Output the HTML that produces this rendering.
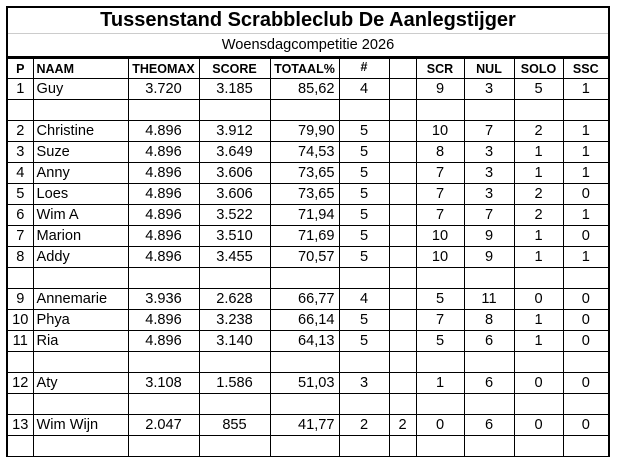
<!DOCTYPE html>
<html><head><meta charset="utf-8"><style>
html,body{margin:0;padding:0;background:#fff;width:617px;height:447px;overflow:hidden}
table{position:absolute;left:6px;top:6px;border-collapse:collapse;table-layout:fixed;font-family:"Liberation Sans",Arial,sans-serif;color:#000}
td{border:1px solid #000;height:20px;padding:0;font-size:14.6px;text-align:center;white-space:nowrap;overflow:hidden;line-height:19px;padding-top:1px;box-sizing:border-box}
tr{height:21px}
td.l{text-align:left;padding-left:3px}
td.r{text-align:right;padding-right:4px}
tr.h td{font-weight:bold;font-size:12.5px;line-height:18px}
tr.t{height:26px}
tr.t td{font-weight:bold;font-size:20px;height:26px;border:2px solid #000;border-bottom:1px solid #ccc;line-height:22px;padding-top:0}
tr.s{height:24px}
tr.s td{font-size:14.6px;height:24px;border:2px solid #000;border-top:none;border-bottom:3px solid #000;line-height:20px;padding-top:0}
td.lb{border-left:2px solid #000}
td.rb{border-right:2px solid #000}
</style></head><body>
<table>
<colgroup><col style="width:26px"><col style="width:95px"><col style="width:71px"><col style="width:71px"><col style="width:69px"><col style="width:50px"><col style="width:27px"><col style="width:48px"><col style="width:50px"><col style="width:49px"><col style="width:46px"></colgroup>
<tr class="t"><td colspan="11">Tussenstand Scrabbleclub De Aanlegstijger</td></tr>
<tr class="s"><td colspan="11">Woensdagcompetitie 2026</td></tr>
<tr class="h"><td class="lb">P</td><td class="l">NAAM</td><td>THEOMAX</td><td>SCORE</td><td>TOTAAL%</td><td style="vertical-align:top;line-height:14px">#</td><td></td><td>SCR</td><td>NUL</td><td>SOLO</td><td class="rb">SSC</td></tr>
<tr><td class="lb">1</td><td class="l">Guy</td><td>3.720</td><td>3.185</td><td class="r">85,62</td><td>4</td><td></td><td>9</td><td>3</td><td>5</td><td class="rb">1</td></tr>
<tr><td class="lb"></td><td></td><td></td><td></td><td></td><td></td><td></td><td></td><td></td><td></td><td class="rb"></td></tr>
<tr><td class="lb">2</td><td class="l">Christine</td><td>4.896</td><td>3.912</td><td class="r">79,90</td><td>5</td><td></td><td>10</td><td>7</td><td>2</td><td class="rb">1</td></tr>
<tr><td class="lb">3</td><td class="l">Suze</td><td>4.896</td><td>3.649</td><td class="r">74,53</td><td>5</td><td></td><td>8</td><td>3</td><td>1</td><td class="rb">1</td></tr>
<tr><td class="lb">4</td><td class="l">Anny</td><td>4.896</td><td>3.606</td><td class="r">73,65</td><td>5</td><td></td><td>7</td><td>3</td><td>1</td><td class="rb">1</td></tr>
<tr><td class="lb">5</td><td class="l">Loes</td><td>4.896</td><td>3.606</td><td class="r">73,65</td><td>5</td><td></td><td>7</td><td>3</td><td>2</td><td class="rb">0</td></tr>
<tr><td class="lb">6</td><td class="l">Wim A</td><td>4.896</td><td>3.522</td><td class="r">71,94</td><td>5</td><td></td><td>7</td><td>7</td><td>2</td><td class="rb">1</td></tr>
<tr><td class="lb">7</td><td class="l">Marion</td><td>4.896</td><td>3.510</td><td class="r">71,69</td><td>5</td><td></td><td>10</td><td>9</td><td>1</td><td class="rb">0</td></tr>
<tr><td class="lb">8</td><td class="l">Addy</td><td>4.896</td><td>3.455</td><td class="r">70,57</td><td>5</td><td></td><td>10</td><td>9</td><td>1</td><td class="rb">1</td></tr>
<tr><td class="lb"></td><td></td><td></td><td></td><td></td><td></td><td></td><td></td><td></td><td></td><td class="rb"></td></tr>
<tr><td class="lb">9</td><td class="l">Annemarie</td><td>3.936</td><td>2.628</td><td class="r">66,77</td><td>4</td><td></td><td>5</td><td>11</td><td>0</td><td class="rb">0</td></tr>
<tr><td class="lb">10</td><td class="l">Phya</td><td>4.896</td><td>3.238</td><td class="r">66,14</td><td>5</td><td></td><td>7</td><td>8</td><td>1</td><td class="rb">0</td></tr>
<tr><td class="lb">11</td><td class="l">Ria</td><td>4.896</td><td>3.140</td><td class="r">64,13</td><td>5</td><td></td><td>5</td><td>6</td><td>1</td><td class="rb">0</td></tr>
<tr><td class="lb"></td><td></td><td></td><td></td><td></td><td></td><td></td><td></td><td></td><td></td><td class="rb"></td></tr>
<tr><td class="lb">12</td><td class="l">Aty</td><td>3.108</td><td>1.586</td><td class="r">51,03</td><td>3</td><td></td><td>1</td><td>6</td><td>0</td><td class="rb">0</td></tr>
<tr><td class="lb"></td><td></td><td></td><td></td><td></td><td></td><td></td><td></td><td></td><td></td><td class="rb"></td></tr>
<tr><td class="lb">13</td><td class="l">Wim Wijn</td><td>2.047</td><td>855</td><td class="r">41,77</td><td>2</td><td>2</td><td>0</td><td>6</td><td>0</td><td class="rb">0</td></tr>
<tr><td class="lb"></td><td></td><td></td><td></td><td></td><td></td><td></td><td></td><td></td><td></td><td class="rb"></td></tr>
</table>
</body></html>
